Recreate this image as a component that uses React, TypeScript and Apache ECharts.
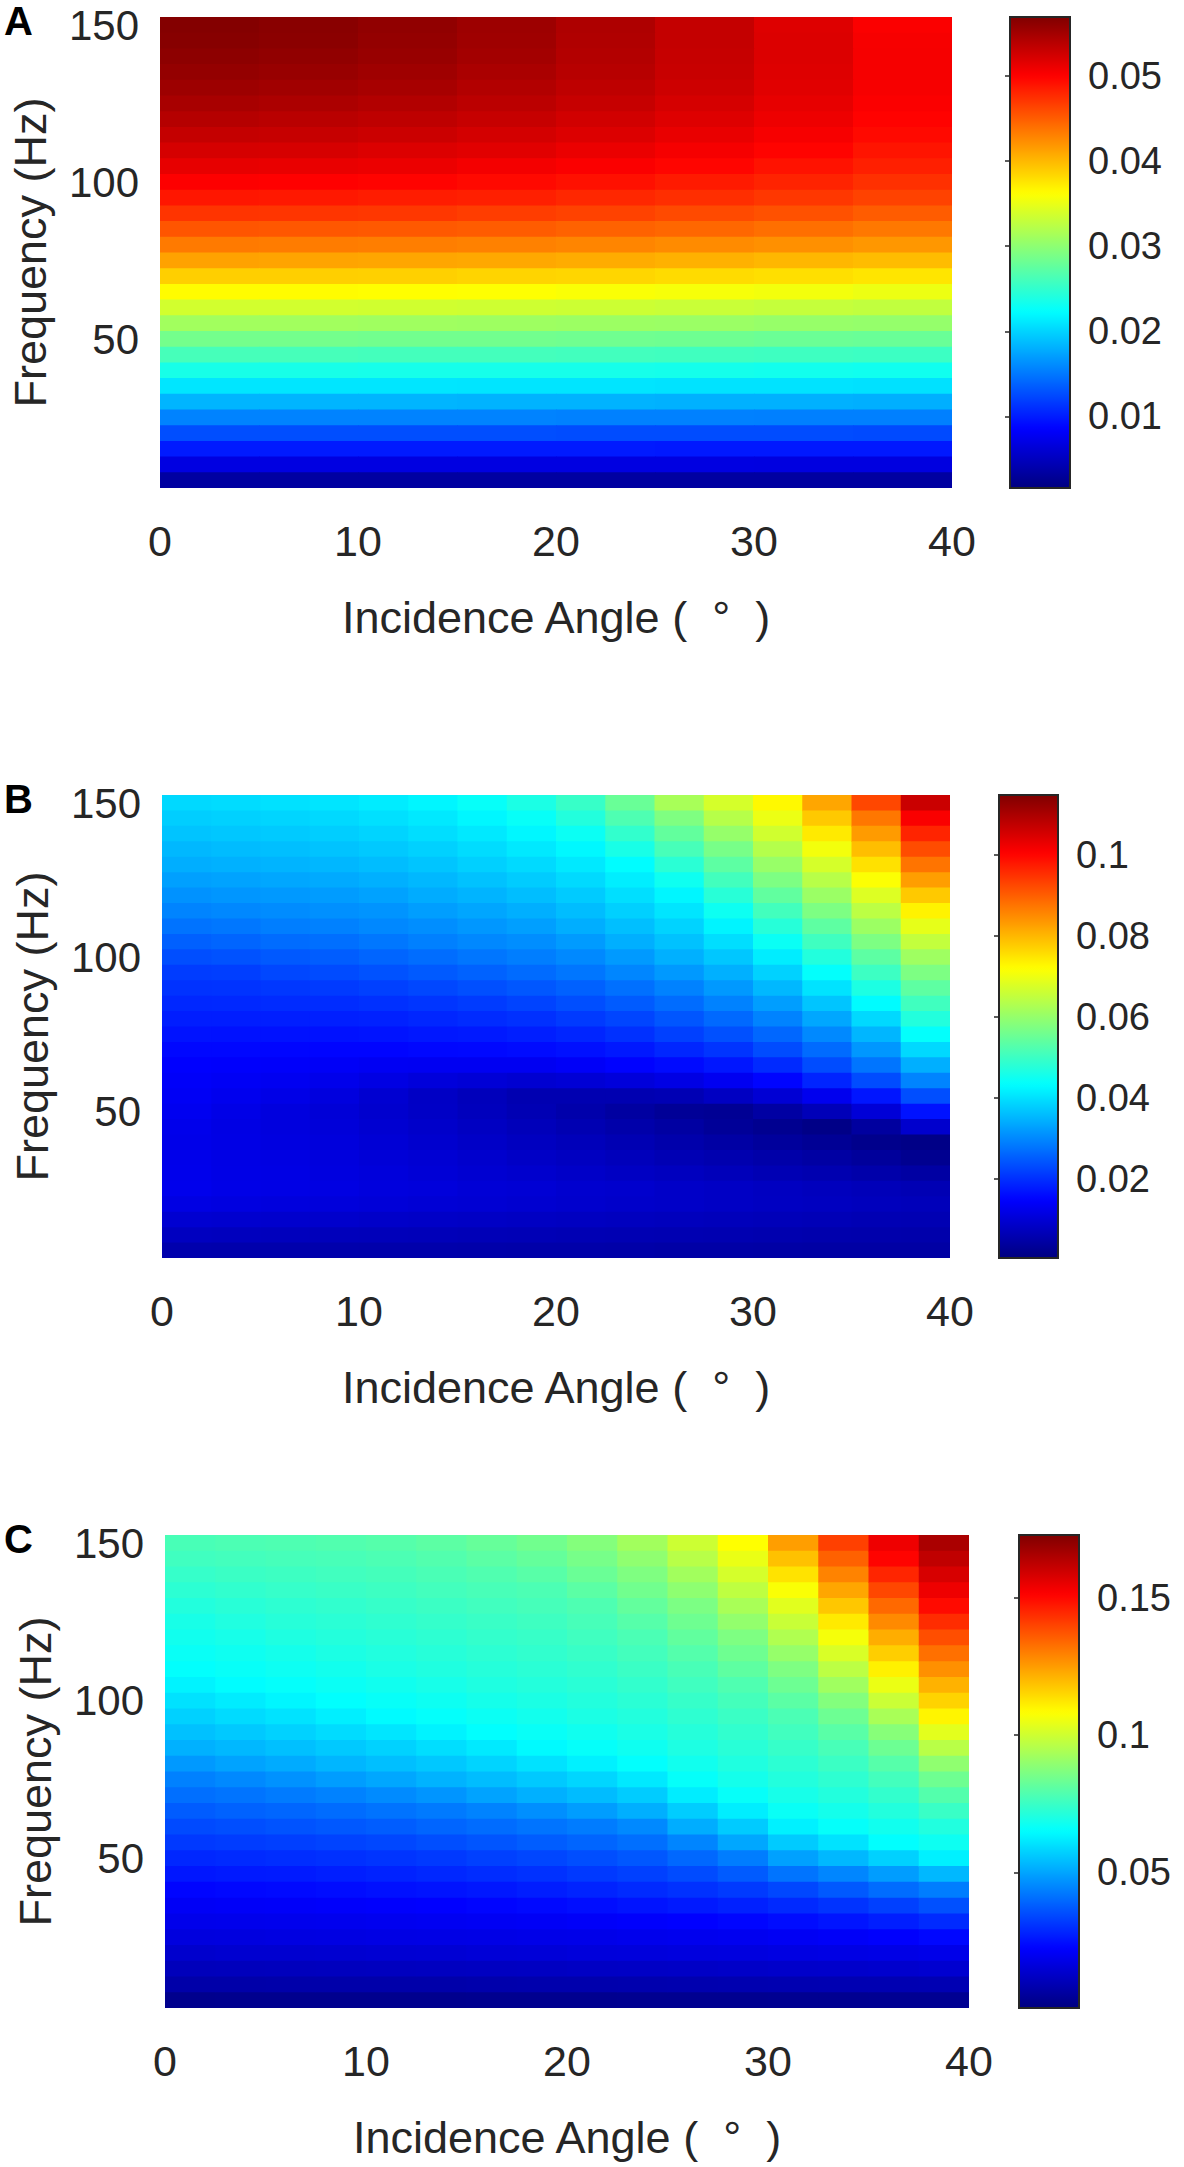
import React, { useEffect, useRef } from "react";
import * as echarts from "echarts";

// ---------- data (in units of 1e-3) ----------
const UNIT = 0.001;

// frequency of each row (cell centre, Hz), top -> bottom
const FREQS = [147.5, 142.5, 137.5, 132.5, 127.5, 122.5, 117.5, 112.5, 107.5, 102.5, 97.5, 92.5, 87.5, 82.5, 77.5, 72.5, 67.5, 62.5, 57.5, 52.5, 47.5, 42.5, 37.5, 32.5, 27.5, 22.5, 17.5, 12.5, 7.5, 2.5];

// panel A: angle columns (cell centre, deg)
const ANGLES_A = [2.5, 7.5, 12.5, 17.5, 22.5, 27.5, 32.5, 37.5];
// panel A: one row per FREQS entry, one value per ANGLES_A entry
const A_ROWS = [
  [56.7, 56.4, 56.0, 55.3, 54.4, 53.2, 51.8, 50.2],
  [56.5, 56.3, 55.8, 55.2, 54.3, 53.2, 51.9, 50.4],
  [56.2, 56.0, 55.6, 55.0, 54.1, 53.1, 51.9, 50.5],
  [55.8, 55.6, 55.2, 54.6, 53.9, 53.0, 51.8, 50.5],
  [55.3, 55.1, 54.8, 54.2, 53.5, 52.7, 51.6, 50.4],
  [54.7, 54.5, 54.2, 53.7, 53.1, 52.3, 51.3, 50.2],
  [54.0, 53.8, 53.5, 53.1, 52.5, 51.8, 50.9, 49.9],
  [53.2, 53.1, 52.8, 52.4, 51.9, 51.2, 50.4, 49.5],
  [52.3, 52.2, 51.9, 51.6, 51.1, 50.5, 49.8, 48.9],
  [51.3, 51.2, 51.0, 50.6, 50.2, 49.7, 49.0, 48.3],
  [50.1, 50.0, 49.8, 49.5, 49.1, 48.6, 48.1, 47.4],
  [48.8, 48.7, 48.5, 48.3, 47.9, 47.5, 47.0, 46.4],
  [47.2, 47.1, 47.0, 46.7, 46.4, 46.0, 45.6, 45.0],
  [45.4, 45.3, 45.2, 45.0, 44.7, 44.4, 44.0, 43.5],
  [43.4, 43.3, 43.2, 43.0, 42.8, 42.5, 42.2, 41.8],
  [41.2, 41.1, 41.0, 40.9, 40.7, 40.4, 40.1, 39.8],
  [38.8, 38.8, 38.7, 38.5, 38.4, 38.1, 37.9, 37.6],
  [36.3, 36.3, 36.2, 36.1, 35.9, 35.7, 35.5, 35.2],
  [33.7, 33.7, 33.6, 33.5, 33.4, 33.2, 33.0, 32.8],
  [31.1, 31.1, 31.0, 30.9, 30.8, 30.7, 30.5, 30.4],
  [28.6, 28.6, 28.5, 28.5, 28.4, 28.3, 28.1, 28.0],
  [26.1, 26.1, 26.0, 26.0, 25.9, 25.8, 25.7, 25.6],
  [23.6, 23.6, 23.5, 23.5, 23.5, 23.4, 23.3, 23.2],
  [21.0, 21.0, 21.0, 20.9, 20.9, 20.8, 20.8, 20.7],
  [18.3, 18.3, 18.3, 18.2, 18.2, 18.1, 18.1, 18.0],
  [15.6, 15.6, 15.6, 15.6, 15.5, 15.5, 15.4, 15.4],
  [12.7, 12.7, 12.7, 12.7, 12.6, 12.6, 12.6, 12.5],
  [9.9, 9.9, 9.9, 9.9, 9.9, 9.8, 9.8, 9.8],
  [6.9, 6.9, 6.9, 6.9, 6.9, 6.9, 6.8, 6.8],
  [3.4, 3.4, 3.4, 3.4, 3.4, 3.4, 3.4, 3.4],
];

// panels B and C: angle columns (cell centre, deg)
const ANGLES_BC = [1.25, 3.75, 6.25, 8.75, 11.25, 13.75, 16.25, 18.75, 21.25, 23.75, 26.25, 28.75, 31.25, 33.75, 36.25, 38.75];

// panel B: one column per ANGLES_BC entry, values follow FREQS (top -> bottom)
const B_COLS = [
  [39.0, 37.8, 36.7, 35.4, 34.2, 32.6, 31.1, 29.5, 27.6, 25.5, 23.5, 21.5, 20.4, 19.1, 18.0, 16.8, 15.6, 14.7, 14.1, 13.6, 13.1, 12.5, 12.3, 12.4, 12.5, 12.6, 11.6, 9.6, 7.7, 5.6],
  [39.4, 38.2, 37.0, 35.8, 34.6, 33.0, 31.5, 29.9, 28.0, 26.0, 23.9, 21.7, 20.5, 19.2, 18.0, 16.7, 15.5, 14.4, 13.6, 12.9, 12.1, 11.7, 11.8, 11.9, 12.0, 12.1, 11.3, 9.4, 7.5, 5.5],
  [39.9, 38.6, 37.4, 36.1, 34.9, 33.4, 31.9, 30.4, 28.8, 26.8, 24.7, 22.7, 20.9, 19.6, 18.1, 16.7, 15.3, 14.2, 13.2, 12.1, 11.1, 11.1, 11.3, 11.5, 11.7, 11.8, 11.0, 9.2, 7.4, 5.5],
  [40.4, 39.1, 37.8, 36.6, 35.2, 33.8, 32.2, 30.8, 29.2, 27.2, 25.2, 23.1, 21.2, 19.7, 18.2, 16.7, 15.2, 13.9, 12.5, 11.1, 10.3, 10.5, 10.8, 11.0, 11.2, 11.5, 10.7, 9.0, 7.1, 5.4],
  [41.2, 39.8, 38.5, 37.2, 35.9, 34.5, 32.9, 31.3, 29.9, 28.0, 26.0, 23.9, 21.9, 20.1, 18.5, 16.9, 15.2, 13.4, 11.6, 9.6, 9.3, 9.6, 10.0, 10.3, 10.7, 11.0, 10.4, 8.7, 7.0, 5.3],
  [42.3, 40.9, 39.6, 38.2, 36.8, 35.4, 34.0, 32.4, 30.6, 29.1, 26.9, 24.8, 22.7, 20.7, 19.0, 17.3, 15.5, 13.3, 10.7, 8.2, 8.4, 8.8, 9.3, 9.8, 10.2, 10.7, 10.1, 8.5, 6.9, 5.3],
  [44.0, 42.4, 40.9, 39.4, 38.0, 36.5, 34.9, 33.3, 31.6, 29.9, 27.9, 25.7, 23.6, 21.4, 19.6, 17.6, 15.7, 13.3, 10.2, 7.1, 7.4, 7.9, 8.5, 9.1, 9.6, 10.2, 9.8, 8.3, 6.7, 5.2],
  [46.3, 44.1, 42.4, 40.8, 39.2, 37.6, 36.0, 34.3, 32.5, 30.6, 28.8, 26.7, 24.5, 22.3, 20.1, 18.1, 16.0, 13.3, 9.6, 6.0, 6.3, 7.0, 7.7, 8.4, 9.2, 9.9, 9.5, 8.0, 6.6, 5.1],
  [49.5, 47.1, 44.6, 42.5, 40.8, 39.2, 37.5, 35.9, 34.2, 32.1, 30.1, 27.9, 25.6, 23.5, 21.2, 18.9, 16.6, 14.0, 10.0, 6.0, 5.3, 6.1, 7.0, 7.8, 8.6, 9.4, 9.2, 7.8, 6.4, 5.1],
  [55.0, 52.0, 48.9, 46.0, 43.1, 41.4, 39.7, 38.0, 36.1, 34.3, 32.0, 29.7, 27.3, 24.9, 22.5, 20.1, 17.5, 15.0, 10.7, 6.0, 4.2, 5.2, 6.2, 7.1, 8.0, 9.1, 8.8, 7.6, 6.2, 5.0],
  [62.1, 57.5, 54.3, 51.2, 48.0, 44.9, 42.3, 40.4, 38.4, 36.5, 34.5, 31.9, 29.3, 26.8, 24.4, 21.9, 19.0, 15.9, 11.7, 6.4, 3.1, 4.3, 5.3, 6.4, 7.6, 8.6, 8.6, 7.4, 6.1, 4.8],
  [67.2, 63.7, 60.1, 56.7, 53.7, 50.7, 47.8, 44.8, 42.1, 39.6, 37.0, 34.5, 31.9, 29.3, 26.5, 23.7, 20.6, 17.2, 13.2, 7.9, 2.7, 3.2, 4.5, 5.8, 7.0, 8.3, 8.3, 7.1, 6.0, 4.8],
  [72.6, 69.7, 66.6, 63.5, 60.3, 57.3, 54.1, 50.7, 47.6, 44.4, 41.3, 38.3, 35.3, 32.4, 29.4, 26.3, 23.2, 19.5, 15.2, 9.9, 4.4, 2.3, 3.7, 5.1, 6.4, 7.8, 7.9, 6.9, 5.8, 4.7],
  [81.9, 78.0, 74.2, 70.5, 67.2, 63.9, 60.6, 57.3, 53.8, 50.4, 47.1, 43.7, 40.2, 36.8, 33.4, 30.1, 26.7, 23.3, 18.8, 12.9, 6.8, 1.3, 2.9, 4.4, 5.9, 7.4, 7.7, 6.7, 5.6, 4.6],
  [92.5, 87.2, 83.1, 79.2, 75.3, 71.5, 68.0, 64.3, 60.8, 57.3, 53.7, 50.1, 46.5, 43.0, 39.1, 35.1, 31.6, 27.8, 23.3, 17.1, 10.3, 4.0, 1.8, 3.5, 5.2, 6.9, 7.4, 6.4, 5.5, 4.6],
  [106.4, 101.0, 96.4, 92.0, 87.5, 82.8, 78.0, 73.2, 69.1, 65.1, 61.1, 57.3, 53.8, 50.5, 47.1, 43.7, 39.1, 34.3, 29.5, 23.5, 16.8, 9.2, 1.3, 2.3, 4.4, 6.4, 7.0, 6.2, 5.3, 4.5],
];

// panel C: one column per ANGLES_BC entry, values follow FREQS (top -> bottom)
const C_COLS = [
  [77.4, 75.9, 74.2, 72.6, 70.9, 69.3, 68.1, 66.7, 65.5, 63.1, 60.2, 57.4, 54.7, 51.9, 47.9, 43.8, 40.7, 37.6, 34.5, 31.6, 28.6, 25.7, 22.8, 20.5, 18.6, 16.5, 13.6, 10.5, 7.4, 2.7],
  [78.0, 76.4, 75.0, 73.5, 71.9, 70.5, 69.0, 67.6, 66.4, 64.8, 61.9, 59.0, 56.0, 53.1, 49.5, 45.2, 41.6, 38.5, 35.2, 32.1, 29.1, 26.2, 23.3, 20.9, 18.8, 16.7, 14.0, 10.7, 7.4, 2.9],
  [78.3, 76.9, 75.5, 74.2, 72.8, 71.6, 70.2, 68.6, 67.3, 65.9, 63.6, 60.5, 57.6, 54.5, 51.0, 46.7, 42.8, 39.3, 36.0, 32.6, 29.7, 26.5, 23.6, 21.0, 19.0, 16.9, 14.1, 10.9, 7.6, 2.9],
  [78.8, 77.3, 76.1, 74.8, 73.5, 72.3, 71.1, 69.7, 68.3, 66.9, 65.4, 62.4, 59.3, 56.0, 52.8, 48.5, 44.0, 40.3, 36.9, 33.3, 30.2, 27.1, 24.0, 21.4, 19.1, 17.1, 14.3, 11.0, 7.7, 2.9],
  [79.5, 78.0, 76.7, 75.5, 74.3, 73.1, 71.9, 70.7, 69.5, 67.9, 66.4, 64.5, 61.0, 57.6, 54.3, 50.2, 45.5, 41.4, 37.8, 34.1, 30.9, 27.8, 24.7, 21.7, 19.5, 17.4, 14.6, 11.2, 7.7, 2.9],
  [80.7, 79.0, 77.6, 76.4, 75.2, 74.0, 72.8, 71.6, 70.4, 69.0, 67.4, 65.9, 63.1, 59.5, 55.9, 52.3, 47.2, 42.6, 39.0, 35.2, 31.7, 28.6, 25.3, 22.1, 19.8, 17.6, 14.8, 11.4, 7.7, 2.9],
  [82.4, 80.5, 78.6, 77.3, 76.1, 74.8, 73.8, 72.6, 71.4, 70.2, 68.8, 67.1, 65.4, 61.7, 57.9, 54.0, 49.5, 44.1, 40.2, 36.4, 32.8, 29.5, 26.0, 22.8, 20.2, 17.8, 15.2, 11.5, 7.9, 3.1],
  [84.3, 82.1, 80.0, 78.0, 76.9, 75.7, 74.5, 73.5, 72.3, 71.1, 69.8, 68.3, 66.6, 64.3, 60.2, 56.0, 51.7, 46.2, 41.6, 37.8, 33.8, 30.3, 26.9, 23.4, 20.5, 18.1, 15.5, 11.7, 8.1, 3.1],
  [87.4, 85.2, 83.0, 80.5, 78.3, 77.1, 75.9, 74.7, 73.3, 72.1, 70.9, 69.7, 67.9, 66.1, 62.8, 58.3, 53.8, 48.5, 42.9, 39.1, 35.2, 31.6, 27.9, 24.3, 21.0, 18.4, 15.9, 12.1, 8.1, 3.1],
  [92.6, 89.5, 86.6, 84.3, 81.9, 79.7, 77.8, 76.4, 75.0, 73.6, 72.3, 70.9, 69.5, 67.6, 65.5, 61.4, 56.6, 51.6, 45.2, 40.7, 36.7, 32.9, 29.1, 25.2, 21.5, 18.8, 16.2, 12.2, 8.3, 3.3],
  [99.7, 96.2, 92.6, 89.2, 86.1, 83.8, 81.6, 79.3, 77.4, 75.9, 74.3, 73.0, 71.4, 70.0, 68.1, 66.1, 62.1, 56.7, 51.2, 44.5, 39.5, 34.7, 30.3, 26.2, 22.1, 19.1, 16.4, 12.4, 8.4, 3.3],
  [108.3, 104.7, 101.1, 97.3, 93.7, 90.0, 86.4, 83.8, 81.1, 78.5, 76.7, 75.0, 73.5, 71.9, 70.4, 68.5, 66.2, 62.3, 56.4, 50.2, 43.1, 37.4, 31.9, 27.4, 22.9, 19.6, 16.7, 12.7, 8.6, 3.3],
  [124.7, 118.8, 113.0, 107.5, 103.3, 99.0, 94.9, 90.5, 86.4, 83.5, 80.5, 77.8, 76.1, 74.3, 72.6, 70.9, 69.0, 66.7, 62.8, 56.4, 49.3, 41.6, 34.0, 29.0, 24.1, 20.2, 17.1, 13.1, 8.8, 3.4],
  [140.7, 135.1, 129.4, 123.5, 117.8, 111.9, 106.6, 101.8, 96.9, 92.1, 87.3, 83.6, 80.2, 77.3, 75.2, 73.0, 70.9, 68.6, 66.1, 60.5, 53.1, 44.7, 37.1, 30.7, 25.5, 20.9, 17.4, 13.3, 9.0, 3.4],
  [154.2, 150.9, 145.2, 139.5, 133.8, 128.2, 122.3, 116.6, 110.7, 105.0, 99.3, 93.7, 88.0, 83.6, 79.7, 76.4, 73.6, 70.9, 68.1, 65.4, 57.3, 48.6, 40.2, 32.8, 27.2, 21.7, 17.8, 13.6, 9.0, 3.6],
  [165.9, 162.1, 158.2, 154.2, 149.7, 144.0, 138.3, 132.6, 127.1, 121.4, 115.7, 110.0, 103.5, 96.4, 89.5, 83.8, 79.2, 74.8, 70.7, 67.4, 62.8, 53.1, 43.1, 35.5, 29.1, 23.1, 18.4, 14.0, 9.1, 3.6],
];

// colour-bar ranges and tick labels
const RANGE_A = [0.0016, 0.0569];
const RANGE_B = [0.0005, 0.1147];
const RANGE_C = [0.0005, 0.173];
const CB_TICKS_A = [0.01, 0.02, 0.03, 0.04, 0.05];
const CB_TICKS_B = [0.02, 0.04, 0.06, 0.08, 0.1];
const CB_TICKS_C = [0.05, 0.1, 0.15];
const X_TICK_STEP = 10;
const Y_TICK_STEP = 50;

// MATLAB "jet" colour map, evenly spaced stops
const JET = ["#000080", "#0000ff", "#0080ff", "#00ffff", "#80ff80", "#ffff00", "#ff8000", "#ff0000", "#800000"];

// ---------- build series data ----------
const dataA: number[][] = [];
FREQS.forEach((f, r) => ANGLES_A.forEach((a, c) => dataA.push([a, f, A_ROWS[r][c] * UNIT])));
const fromCols = (cols: number[][]) => {
  const out: number[][] = [];
  ANGLES_BC.forEach((a, c) => FREQS.forEach((f, r) => out.push([a, f, cols[c][r] * UNIT])));
  return out;
};
const dataB = fromCols(B_COLS);
const dataC = fromCols(C_COLS);

const FONT = '"Liberation Sans", Arial, Helvetica, sans-serif';
const TEXT = "#262626";

function cellRenderer(cellW: number, cellH: number) {
  return (params: any, api: any) => {
    const a = api.value(0);
    const f = api.value(1);
    const p0 = api.coord([a - cellW / 2, f + cellH / 2]);
    const p1 = api.coord([a + cellW / 2, f - cellH / 2]);
    return {
      type: "rect",
      shape: { x: p0[0], y: p0[1], width: p1[0] - p0[0] + 0.8, height: p1[1] - p0[1] + 0.8 },
      style: { fill: api.visual("color") },
    };
  };
}

const PANELS = [
  { letter: "A", grid: { left: 156, top: 17, width: 796, height: 471 }, cb: { left: 1010, top: 17, width: 60, height: 471 }, range: RANGE_A, ticks: CB_TICKS_A, cellW: 5, data: dataA },
  { letter: "B", grid: { left: 162, top: 795, width: 788, height: 463 }, cb: { left: 999, top: 795, width: 59, height: 463 }, range: RANGE_B, ticks: CB_TICKS_B, cellW: 2.5, data: dataB },
  { letter: "C", grid: { left: 165, top: 1535, width: 804, height: 473 }, cb: { left: 1019, top: 1535, width: 60, height: 473 }, range: RANGE_C, ticks: CB_TICKS_C, cellW: 2.5, data: dataC },
];

function buildOption() {
  const grid: any[] = [];
  const xAxis: any[] = [];
  const yAxis: any[] = [];
  const series: any[] = [];
  const visualMap: any[] = [];
  const graphic: any[] = [];

  PANELS.forEach((p, i) => {
    grid.push({ ...p.grid, show: false });
    grid.push({ ...p.cb, show: true, borderColor: TEXT, borderWidth: 2, backgroundColor: "transparent", z: 10 });

    xAxis.push({
      gridIndex: 2 * i, type: "value", min: 0, max: 40, interval: X_TICK_STEP,
      axisLine: { show: false }, axisTick: { show: false }, splitLine: { show: false },
      axisLabel: { fontSize: 43, color: TEXT, margin: 31, fontFamily: FONT },
      name: "Incidence Angle (  \u00B0  )", nameLocation: "middle", nameGap: 107,
      nameTextStyle: { fontSize: 45, color: TEXT, fontFamily: FONT },
    });
    xAxis.push({ gridIndex: 2 * i + 1, type: "value", min: 0, max: 1, show: false });

    yAxis.push({
      gridIndex: 2 * i, type: "value", min: 0, max: 150, interval: Y_TICK_STEP,
      axisLine: { show: false }, axisTick: { show: false }, splitLine: { show: false },
      axisLabel: {
        fontSize: 42, color: TEXT, margin: 21, fontFamily: FONT,
        verticalAlign: "top", lineHeight: 16,
        formatter: (v: number) => (v === 0 ? "" : String(v)),
      },
      name: "Frequency (Hz)", nameLocation: "middle", nameGap: 107, nameRotate: 90,
      nameTextStyle: { fontSize: 45, color: TEXT, fontFamily: FONT },
    });
    yAxis.push({
      gridIndex: 2 * i + 1, type: "value", min: p.range[0], max: p.range[1], position: "right", z: 11,
      axisLine: { show: false }, splitLine: { show: false },
      axisTick: { show: true, inside: true, length: 5, customValues: p.ticks, lineStyle: { color: TEXT, width: 1.5 } },
      axisLabel: { show: true, customValues: p.ticks, fontSize: 38, color: TEXT, margin: 18, fontFamily: FONT, formatter: (v: number) => String(+v.toFixed(4)) },
    });

    series.push({
      type: "custom", name: p.letter, xAxisIndex: 2 * i, yAxisIndex: 2 * i,
      data: p.data, encode: { x: 0, y: 1 }, renderItem: cellRenderer(p.cellW, 5),
      clip: true, silent: true,
    });

    visualMap.push({
      type: "continuous", seriesIndex: i, dimension: 2, min: p.range[0], max: p.range[1],
      calculable: false, orient: "vertical", left: p.cb.left, top: p.cb.top,
      itemWidth: p.cb.width, itemHeight: p.cb.height, padding: 0, showLabel: false,
      hoverLink: false, inRange: { color: JET },
    });

    graphic.push({
      type: "text", x: 4, y: p.grid.top + 4,
      style: { text: p.letter, fontSize: 40, fontWeight: "bold", fontFamily: FONT, fill: "#000", align: "left", verticalAlign: "middle" },
    });
  });

  return {
    animation: false,
    backgroundColor: "#ffffff",
    textStyle: { fontFamily: FONT },
    grid, xAxis, yAxis, series, visualMap, graphic,
  };
}

export default function App() {
  const ref = useRef<HTMLDivElement | null>(null);
  useEffect(() => {
    document.body.style.margin = "0";
    if (!ref.current) return;
    const chart = echarts.init(ref.current, undefined, { renderer: "svg" });
    chart.setOption(buildOption() as any);
    return () => chart.dispose();
  }, []);
  return <div ref={ref} style={{ width: 1184, height: 2167, background: "#fff" }} />;
}
